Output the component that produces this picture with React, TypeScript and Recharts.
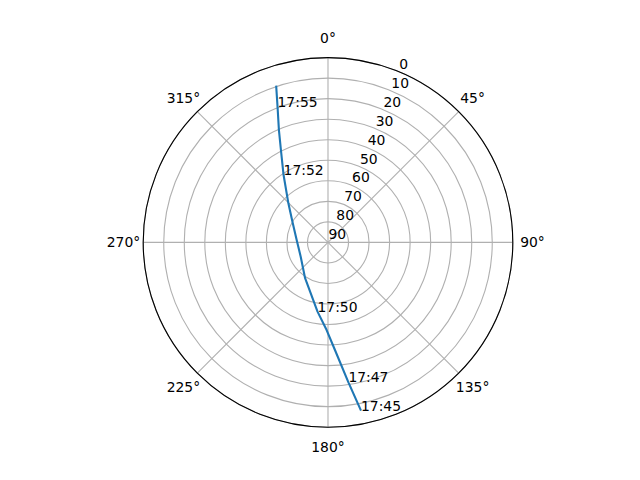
import { RadarChart, Radar, PolarGrid, PolarAngleAxis, PolarRadiusAxis } from "recharts"

// satellite pass (azimuth clockwise from north, elevation in degrees)
const azimuth = [168.9, 171.7, 176.3, 180.9, 188.6, 212.6, 242.4, 274.4, 298.4, 314.6, 326.6, 333.0, 336.4, 339.6, 341.7]
const elevation = [6.5, 21.1, 37.5, 47.3, 55.9, 69.3, 75.0, 74.7, 70.5, 62.9, 50.7, 39.5, 30.3, 19.5, 9.6]
const timeLabels = ["17:45", "17:47", "", "", "17:50", "", "", "", "", "", "17:52", "", "", "17:55", ""]

const azTicks = [0, 45, 90, 135, 180, 225, 270, 315]
const elTicks = [0, 10, 20, 30, 40, 50, 60, 70, 80, 90]

const track = azimuth.map((az, i) => ({ az, el: elevation[i], time: timeLabels[i] }))

const FONT = "DejaVu Sans, sans-serif"

function AngleTick(props: any) {
  const { x, y, payload } = props
  if (payload.value >= 360) return <g />
  return (
    <text x={x} y={y} textAnchor="middle" dominantBaseline="central" fontFamily={FONT} fontSize={13.9} fill="#000">
      {payload.value}°
    </text>
  )
}

function RadiusTick(props: any) {
  const { x, y, payload } = props
  return (
    <text x={x + 0.5} y={y - 3} textAnchor="start" fontFamily={FONT} fontSize={13.9} fill="#000">
      {payload.value}
    </text>
  )
}

function TrackShape(props: any) {
  const pts = props.points || []
  const d = pts.map((p: any, i: number) => `${i === 0 ? "M" : "L"}${p.x},${p.y}`).join(" ")
  return (
    <g>
      <path d={d} fill="none" stroke="#1f77b4" strokeWidth={2.1} strokeLinejoin="round" />
      {pts.map((p: any, i: number) =>
        p.payload && p.payload.time ? (
          <text key={i} x={p.x} y={p.y} fontFamily={FONT} fontSize={13.9} fill="#000">
            {p.payload.time}
          </text>
        ) : null
      )}
    </g>
  )
}

export default function App() {
  return (
    <div style={{ position: "absolute", left: 0, top: 0, width: 640, height: 480, background: "#fff" }}>
      <RadarChart
        width={640}
        height={480}
        data={track}
        cx={328}
        cy={242.4}
        outerRadius={184.8}
        startAngle={90}
        endAngle={-270}
        margin={{ top: 0, right: 0, bottom: 0, left: 0 }}
      >
        <PolarGrid gridType="circle" stroke="#b0b0b0" strokeWidth={1.1} />
        <PolarAngleAxis
          dataKey="az"
          type="number"
          domain={[0, 360]}
          ticks={azTicks}
          tickCount={9}
          tickSize={19.7}
          tickLine={false}
          axisLineType="circle"
          axisLine={{ stroke: "#000", strokeWidth: 1.1 }}
          stroke="#000"
          tick={<AngleTick />}
        />
        <PolarRadiusAxis
          type="number"
          domain={[0, 90]}
          ticks={elTicks}
          tickCount={10}
          reversed
          angle={67.5}
          axisLine={false}
          tick={<RadiusTick />}
        />
        <Radar dataKey="el" isAnimationActive={false} shape={<TrackShape />} />
      </RadarChart>
    </div>
  )
}
